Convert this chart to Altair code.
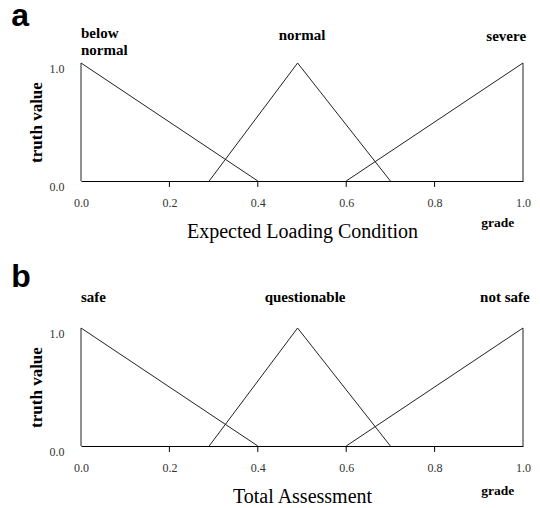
import altair as alt
import pandas as pd

# ---- data ----
x_ticks = [0.0, 0.2, 0.4, 0.6, 0.8, 1.0]
inner_ticks = [0.2, 0.4, 0.6, 0.8]

a_sets = ["below normal", "normal", "severe"]
a_x = [[0.0, 0.0, 0.4], [0.29, 0.49, 0.7], [0.6, 1.0, 1.0]]
a_y = [[0.0, 1.0, 0.0], [0.0, 1.0, 0.0], [0.0, 1.0, 0.0]]

b_sets = ["safe", "questionable", "not safe"]
b_x = [[0.0, 0.0, 0.4], [0.29, 0.49, 0.7], [0.6, 1.0, 1.0]]
b_y = [[0.0, 1.0, 0.0], [0.0, 1.0, 0.0], [0.0, 1.0, 0.0]]

a_title = "Expected Loading Condition"
b_title = "Total Assessment"
y_title = "truth value"
unit_label = "grade"

SERIF = "Liberation Serif"
SANS = "Liberation Sans"
W, H = 442, 118


def lines_df(sets, xs, ys):
    rows = []
    for s, xx, yy in zip(sets, xs, ys):
        for i, (x, y) in enumerate(zip(xx, yy)):
            rows.append({"set": s, "x": x, "y": y, "i": i})
    return pd.DataFrame(rows)


def panel(letter, sets, xs, ys, title, label_pos, letter_y, grade_y):
    df = lines_df(sets, xs, ys)
    xscale = alt.Scale(domain=[0, 1], nice=False, zero=False)
    yscale = alt.Scale(domain=[0, 1], nice=False, zero=False)

    base_lines = alt.Chart(df).mark_line(color="#222", strokeWidth=1, clip=False).encode(
        x=alt.X("x:Q", scale=xscale,
                axis=alt.Axis(values=x_ticks, format=".1f", ticks=False, grid=False,
                              domainColor="black", domainWidth=1.2,
                              labelFont=SERIF, labelFontSize=12, labelColor="#333",
                              labelPadding=16, labelFlush=False,
                              title=title, titleFont=SERIF, titleFontSize=20,
                              titleFontWeight="normal", titleColor="black",
                              titlePadding=13)),
        y=alt.Y("y:Q", scale=yscale,
                axis=alt.Axis(values=[0.0, 1.0], format=".1f", ticks=False, grid=False,
                              domain=False, labelFont=SERIF, labelFontSize=12,
                              labelColor="#333", labelPadding=17, labelOffset=5,
                              labelFlush=False,
                              title=y_title, titleFont=SERIF, titleFontSize=17,
                              titleFontWeight="bold", titleColor="black",
                              titlePadding=4)),
        detail="set:N",
        order="i:Q",
    )

    ticks_df = pd.DataFrame({"x": inner_ticks})
    ticks = alt.Chart(ticks_df).mark_rule(color="black", strokeWidth=1).encode(
        x="x:Q", y=alt.datum(0), y2=alt.datum(-0.05)
    )

    layers = [base_lines, ticks]
    for s, (lx, al, ly) in zip(sets, label_pos):
        txt = s.split(" ") if s == "below normal" else s
        layers.append(
            alt.Chart(pd.DataFrame({"x": [lx]})).mark_text(
                text=txt, font=SERIF, fontSize=15, fontWeight="bold", color="black",
                align=al, baseline="alphabetic", lineHeight=17
            ).encode(x="x:Q", y=alt.datum(ly))
        )
    layers.append(
        alt.Chart(pd.DataFrame({"x": [-0.158]})).mark_text(
            text=letter, font=SANS, fontSize=32, fontWeight="bold", color="black",
            align="left", baseline="middle"
        ).encode(x="x:Q", y=alt.datum(letter_y))
    )
    layers.append(
        alt.Chart(pd.DataFrame({"x": [0.943]})).mark_text(
            text=unit_label, font=SERIF, fontSize=13.5, fontWeight="bold", color="black",
            align="center", baseline="middle"
        ).encode(x="x:Q", y=alt.datum(grade_y))
    )
    return alt.layer(*layers).properties(width=W, height=H)


pa = panel("a", a_sets, a_x, a_y, a_title,
           [(0.0, "left", 1.212), (0.5, "center", 1.195), (0.962, "center", 1.19)],
           1.402, -0.36)
pb = panel("b", b_sets, b_x, b_y, b_title,
           [(0.0, "left", 1.222), (0.507, "center", 1.217), (1.015, "right", 1.217)],
           1.435, -0.38)

chart = alt.vconcat(pa, pb, spacing=19).configure_view(stroke=None).properties(
    padding={"left": 3, "top": -9, "right": 0, "bottom": 0}, background="white"
)

chart.save("out.html", embed_options={"renderer": "svg", "actions": False})
